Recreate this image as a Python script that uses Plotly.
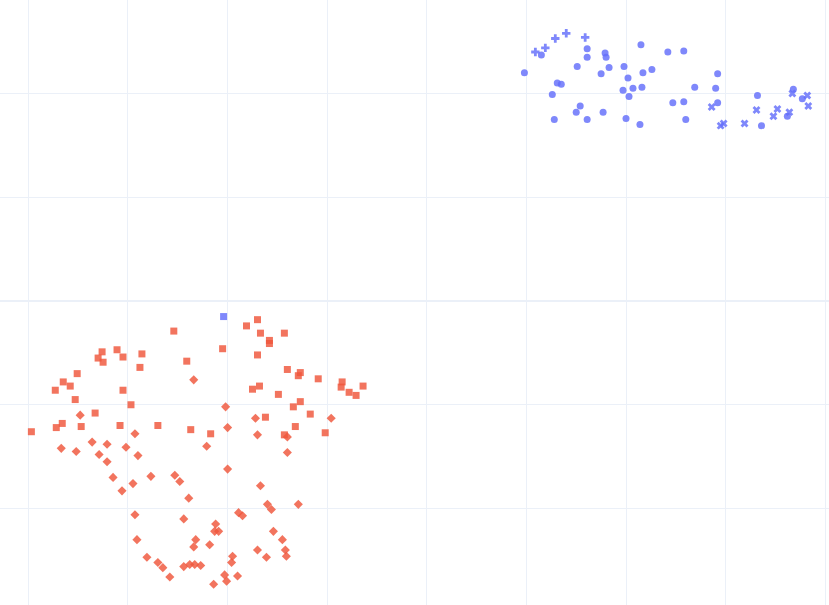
import plotly.graph_objects as go

# Blue group
blue_cross_x = [40.9, 41.9, 42.9, 44.0, 45.9]
blue_cross_y = [24.0, 24.4, 25.3, 25.8, 25.4]

blue_circle_x = [41.5, 46.1, 46.1, 47.9, 48.0, 51.5, 54.2, 39.8, 45.1, 48.3, 47.5, 49.8, 50.2, 51.7,
                 52.6, 43.1, 43.5, 42.6, 49.7, 50.7, 51.6, 50.3, 54.7, 45.4, 45.0, 47.7, 42.8, 46.1,
                 50.0, 51.4, 59.2, 56.9, 59.0, 63.2, 55.8, 59.2, 56.0, 63.6, 67.7, 66.8, 66.2, 55.8]
blue_circle_y = [23.7, 24.3, 23.5, 23.9, 23.5, 24.7, 24.0, 22.0, 22.6, 22.5, 21.9, 22.6, 21.5, 22.0,
                 22.3, 21.0, 20.9, 19.9, 20.3, 20.5, 20.6, 19.7, 19.1, 18.8, 18.2, 18.2, 17.5, 17.5,
                 17.6, 17.0, 21.9, 20.6, 20.5, 19.8, 19.2, 19.1, 17.5, 16.9, 19.5, 20.4, 17.8, 24.1]

blue_x_x = [58.6, 59.5, 59.8, 61.9, 63.1, 64.8, 65.2, 66.4, 66.7, 68.2, 68.3]
blue_x_y = [18.7, 16.9, 17.1, 17.1, 18.4, 17.8, 18.5, 18.2, 20.0, 19.8, 18.8]

blue_square_x = [9.6]
blue_square_y = [-1.5]

# Red group
red_square_x = [4.6, -2.6, -1.1, -3.0, -2.5, -0.5, 1.4, 5.9, 1.2, -5.1, -6.5, -5.8, -7.3, -0.5,
                -5.3, 0.3, -3.3, -6.6, -7.2, -4.7, -9.7, -0.8, 3.0, 6.3, 13.0, 11.9, 13.3, 15.7,
                14.2, 14.2, 9.5, 13.0, 16.0, 17.3, 17.1, 19.1, 21.5, 21.4, 23.6, 22.2, 22.9, 12.5,
                13.2, 15.1, 17.3, 16.6, 18.3, 13.8, 16.8, 19.8, 15.7, 8.3]
red_square_y = [-2.9, -4.9, -4.7, -5.5, -5.9, -5.4, -5.1, -5.8, -6.4, -7.0, -7.8, -8.2, -8.6, -8.6,
                -9.5, -10.0, -10.8, -11.8, -12.2, -12.1, -12.6, -12.0, -12.0, -12.4, -1.8, -2.4, -3.1, -3.1,
                -3.8, -4.1, -4.6, -5.2, -6.6, -6.9, -7.2, -7.5, -7.8, -8.3, -8.2, -8.8, -9.1, -8.5,
                -8.2, -9.0, -9.7, -10.2, -10.9, -11.2, -12.1, -12.7, -12.9, -12.8]

red_diamond_x = [6.6, -4.8, 0.7, -6.7, -5.2, -3.6, -2.1, -0.2, -2.9, 1.0, 9.8, 12.8, 20.4, 10.0,
                 13.0, 16.0, 7.9, 16.0, -2.1, -1.5, -0.6, 0.5, 2.3, 4.7, 5.2, 6.1, 0.7, 5.6,
                 0.9, 6.8, 6.6, 8.2, 8.8, 8.7, 9.1, 1.9, 3.0, 3.5, 4.2, 5.6, 6.2, 6.7,
                 7.3, 8.6, 10.0, 13.3, 14.0, 14.4, 17.1, 11.1, 11.5, 14.6, 15.5, 13.0, 13.9, 15.8,
                 15.9, 10.5, 10.4, 9.7, 11.0, 9.9]
red_diamond_y = [-7.6, -11.0, -12.8, -14.2, -14.5, -13.6, -13.8, -14.1, -14.8, -14.9, -10.2, -11.3, -11.3, -12.2,
                 -12.9, -13.1, -14.0, -14.6, -15.5, -17.0, -18.3, -17.6, -16.9, -16.8, -17.4, -19.0, -20.6, -21.0,
                 -23.0, -23.0, -23.7, -23.5, -21.5, -22.2, -22.2, -24.7, -25.2, -25.7, -26.6, -25.6, -25.4, -25.4,
                 -25.5, -27.3, -16.2, -17.8, -19.6, -20.1, -19.6, -20.4, -20.7, -22.2, -23.0, -24.0, -24.7, -24.0,
                 -24.6, -24.6, -25.2, -26.4, -26.5, -27.0]

BLUE = "#636EFA"
RED = "#EF553B"

fig = go.Figure()

def add(xs, ys, color, symbol):
    fig.add_trace(go.Scatter(x=xs, y=ys, mode="markers",
                             marker=dict(color=color, symbol=symbol, size=7, opacity=0.82),
                             showlegend=False))

add(blue_circle_x, blue_circle_y, BLUE, "circle")
add(blue_cross_x, blue_cross_y, BLUE, "cross")
add(blue_x_x, blue_x_y, BLUE, "x")
add(blue_square_x, blue_square_y, BLUE, "square")
add(red_square_x, red_square_y, RED, "square")
add(red_diamond_x, red_diamond_y, RED, "diamond")

fig.update_layout(
    template="plotly_white",
    width=829, height=605,
    margin=dict(l=0, r=0, t=0, b=0),
    showlegend=False,
)
fig.update_xaxes(range=[-12.85, 70.38], dtick=10, showticklabels=False, zeroline=False)
fig.update_yaxes(range=[-29.3, 29.01], dtick=10, showticklabels=False, zeroline=True)

fig.write_html("out.html",
               config={"displayModeBar": False},
               post_script="document.body.style.margin='0';document.body.style.overflow='hidden';")
